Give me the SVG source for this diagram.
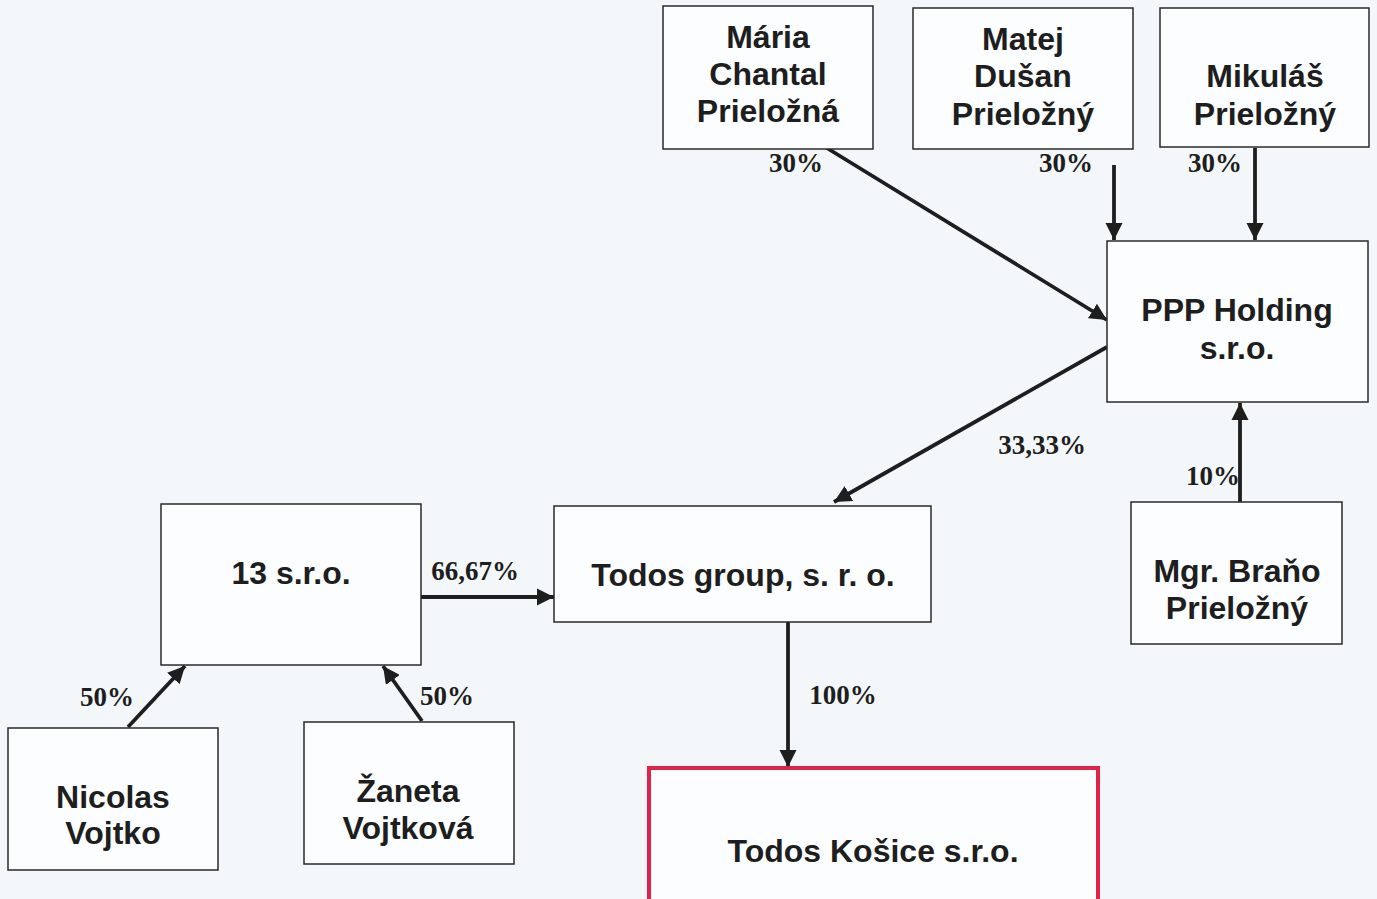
<svg xmlns="http://www.w3.org/2000/svg" width="1377" height="899" viewBox="0 0 1377 899">
<defs>
<marker id="ah" viewBox="0 0 10 10" refX="10" refY="5" markerWidth="4.5" markerHeight="4.5" orient="auto" markerUnits="strokeWidth">
<path d="M0,0 L10,5 L0,10 z" fill="#1e1e1e"/>
</marker>
<style>
.box{fill:#fbfdfe;stroke:#2a2a2a;stroke-width:1.5}
.red{fill:#fbfdfe;stroke:#e0234a;stroke-width:4}
.t{font-family:"Liberation Sans",Arial,sans-serif;font-weight:bold;font-size:32px;fill:#1e1e1e;text-anchor:middle}
.p{font-family:"Liberation Serif","Times New Roman",serif;font-weight:bold;font-size:27px;fill:#1e1e1e;text-anchor:middle}
.c{stroke:#1e1e1e;stroke-width:3.8;fill:none;marker-end:url(#ah)}
</style>
</defs>
<rect width="1377" height="899" fill="#f3f7f9"/>
<g id="connectors">
<line class="c" x1="822" y1="145" x2="1107" y2="320"/>
<line class="c" x1="1114" y1="165" x2="1114" y2="240"/>
<line class="c" x1="1255" y1="148" x2="1255" y2="240"/>
<line class="c" x1="1107" y1="347" x2="834" y2="502"/>
<line class="c" x1="1240" y1="502" x2="1240" y2="403"/>
<line class="c" x1="421" y1="597" x2="554" y2="597"/>
<line class="c" x1="788" y1="620" x2="788" y2="767"/>
<line class="c" x1="128" y1="727" x2="185" y2="666"/>
<line class="c" x1="422" y1="721" x2="383" y2="666"/>
<text class="p" x="796" y="172">30%</text>
<text class="p" x="1066" y="172">30%</text>
<text class="p" x="1215" y="172">30%</text>
<text class="p" x="1042" y="454">33,33%</text>
<text class="p" x="1213" y="485">10%</text>
<text class="p" x="475" y="580">66,67%</text>
<text class="p" x="843" y="704">100%</text>
<text class="p" x="107" y="706">50%</text>
<text class="p" x="447" y="705">50%</text>
</g>
<g id="maria">
<rect class="box" x="663" y="6" width="210" height="143"/>
<text class="t" x="768" y="48">Mária</text>
<text class="t" x="768" y="85">Chantal</text>
<text class="t" x="768" y="122">Prieložná</text>
</g>
<g id="matej">
<rect class="box" x="913" y="8" width="220" height="141"/>
<text class="t" x="1023" y="50">Matej</text>
<text class="t" x="1023" y="87">Dušan</text>
<text class="t" x="1023" y="125">Prieložný</text>
</g>
<g id="mikulas">
<rect class="box" x="1160" y="8" width="209" height="139"/>
<text class="t" x="1265" y="87">Mikuláš</text>
<text class="t" x="1265" y="125">Prieložný</text>
</g>
<g id="ppp">
<rect class="box" x="1107" y="241" width="261" height="161"/>
<text class="t" x="1237" y="321">PPP Holding</text>
<text class="t" x="1237" y="359">s.r.o.</text>
</g>
<g id="brano">
<rect class="box" x="1131" y="502" width="211" height="142"/>
<text class="t" x="1237" y="582">Mgr. Braňo</text>
<text class="t" x="1237" y="619">Prieložný</text>
</g>
<g id="todosgroup">
<rect class="box" x="554" y="506" width="377" height="116"/>
<text class="t" x="743" y="586">Todos group, s. r. o.</text>
</g>
<g id="s13">
<rect class="box" x="161" y="504" width="260" height="161"/>
<text class="t" x="291" y="584">13 s.r.o.</text>
</g>
<g id="nicolas">
<rect class="box" x="8" y="728" width="210" height="142"/>
<text class="t" x="113" y="808">Nicolas</text>
<text class="t" x="113" y="844">Vojtko</text>
</g>
<g id="zaneta">
<rect class="box" x="304" y="722" width="210" height="142"/>
<text class="t" x="408" y="802">Žaneta</text>
<text class="t" x="408" y="839">Vojtková</text>
</g>
<g id="kosice">
<rect class="red" x="649" y="768" width="449" height="140"/>
<text class="t" x="873" y="862">Todos Košice s.r.o.</text>
</g>
</svg>
